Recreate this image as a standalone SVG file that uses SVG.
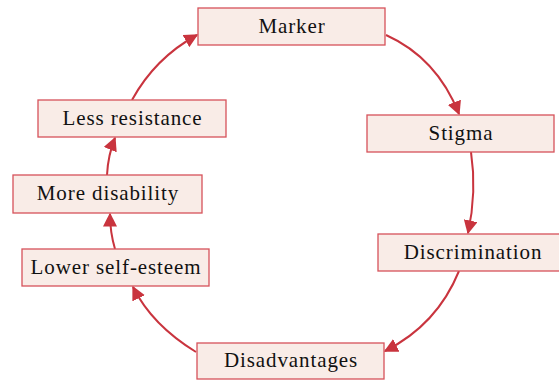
<svg xmlns="http://www.w3.org/2000/svg" width="559" height="380" viewBox="0 0 559 380">
<defs>
<style>
.box{fill:#f9ece7;stroke:#d6525a;stroke-width:1.3}
.lbl{font-family:"Liberation Serif","DejaVu Serif",serif;font-size:21px;letter-spacing:0.9px;fill:#111;text-anchor:middle}
.edge{fill:none;stroke:#c9343e;stroke-width:2}
</style>
<marker id="ah" viewBox="0 0 10 10" refX="9" refY="5" markerWidth="7" markerHeight="7" markerUnits="strokeWidth" orient="auto">
<path d="M0,0 L10,5 L0,10 z" fill="#c9343e"/>
</marker>
</defs>
<rect width="559" height="380" fill="#fff"/>
<g id="edges">
<path class="edge" marker-end="url(#ah)" d="M386,35 Q437,58 459,114"/>
<path class="edge" marker-end="url(#ah)" d="M471,152 Q477,192 468,233"/>
<path class="edge" marker-end="url(#ah)" d="M459,271 Q437,325 385,351"/>
<path class="edge" marker-end="url(#ah)" d="M196,352 Q152,325 133,287"/>
<path class="edge" marker-end="url(#ah)" d="M115,249 Q110,232 110,214"/>
<path class="edge" marker-end="url(#ah)" d="M107,175 Q108,155 115,138"/>
<path class="edge" marker-end="url(#ah)" d="M132,100 Q155,58 197,35"/>
</g>
<g id="marker"><rect class="box" x="198" y="8" width="187" height="37"/><text class="lbl" x="292" y="33">Marker</text></g>
<g id="stigma"><rect class="box" x="367" y="115" width="187" height="37"/><text class="lbl" x="461" y="140">Stigma</text></g>
<g id="discrimination"><rect class="box" x="378" y="234" width="190" height="37"/><text class="lbl" x="473" y="259">Discrimination</text></g>
<g id="disadvantages"><rect class="box" x="197" y="343" width="187" height="36"/><text class="lbl" x="291" y="367">Disadvantages</text></g>
<g id="lower"><rect class="box" x="22" y="249" width="187" height="37"/><text class="lbl" x="116" y="274">Lower self-esteem</text></g>
<g id="more"><rect class="box" x="13" y="175" width="189" height="38"/><text class="lbl" x="108" y="200">More disability</text></g>
<g id="less"><rect class="box" x="38" y="100" width="188" height="37"/><text class="lbl" x="132.5" y="125">Less resistance</text></g>
</svg>
